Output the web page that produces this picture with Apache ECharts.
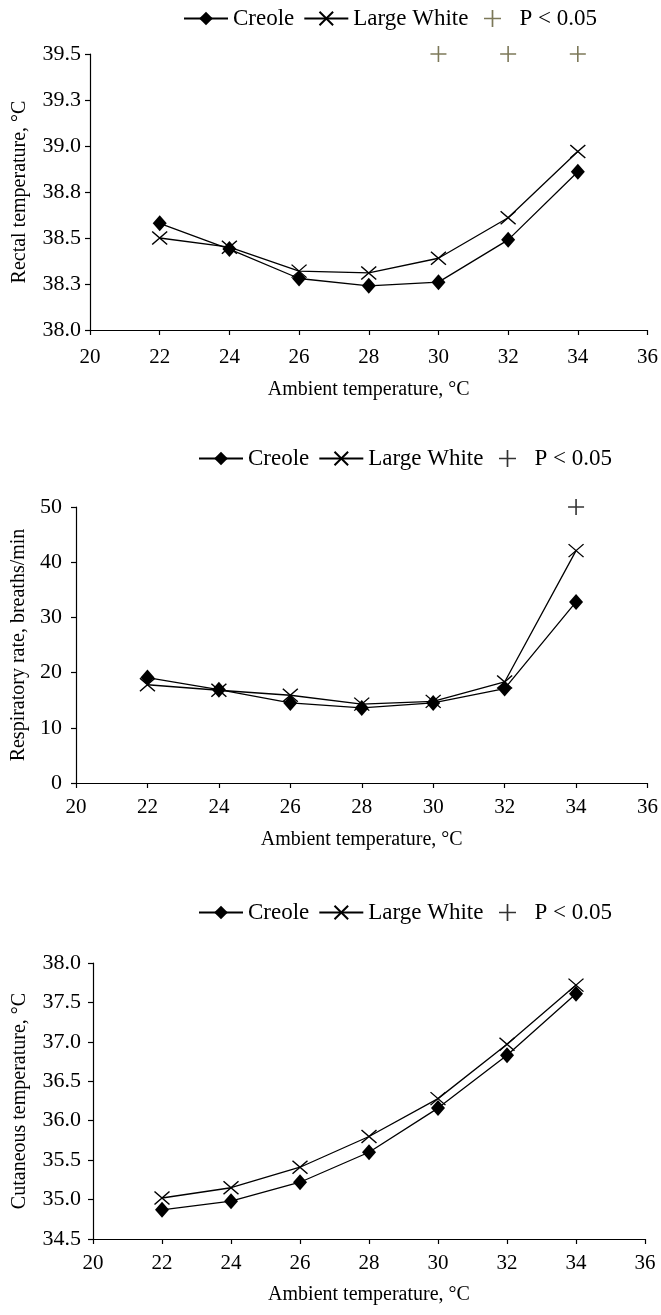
<!DOCTYPE html>
<html>
<head>
<meta charset="utf-8">
<script src="https://cdn.jsdelivr.net/npm/echarts@6/dist/echarts.min.js"></script>
<style>
  html, body { margin: 0; padding: 0; background: #fff; }
  #chart { width: 661px; height: 1315px; }
</style>
</head>
<body>
<div id="chart"></div>
<script>
// ambient temperature, °C
var ambient = [22, 24, 26, 28, 30, 32, 34]

// rectal temperature
var rectalCreole = [38.58, 38.44, 38.28, 38.24, 38.26, 38.49, 38.86]
var rectalLW = [38.50, 38.45, 38.32, 38.31, 38.39, 38.61, 38.97]
var rectalSig = [30, 32, 34]

// respiratory rate
var respCreole = [19.1, 16.9, 14.5, 13.6, 14.5, 17.1, 32.8]
var respLW = [17.8, 16.8, 15.9, 14.3, 14.8, 18.3, 42.1]
var respSig = [34]

// cutaneous temperature
var cutCreole = [34.87, 34.98, 35.22, 35.60, 36.16, 36.83, 37.61]
var cutLW = [35.02, 35.15, 35.41, 35.80, 36.28, 36.97, 37.72]
var cutSig = []

// axis ranges [min, max, interval]
var xRange = [20, 36, 2]
var rectalRange = [38.0, 39.5, 0.25]
var respRange = [0, 50, 10]
var cutRange = [34.5, 38.0, 0.5]

var yNames = ['Rectal temperature, °C', 'Respiratory rate, breaths/min', 'Cutaneous temperature, °C']
var xName = 'Ambient temperature, °C'
var legendNames = ['Creole', 'Large White', 'P < 0.05']

var FONT = '"Liberation Serif", "Times New Roman", serif'
var OLIVE = '#5b5630'
var diamond = 'diamond'
var cross = 'path://M-1,-1L1,1M-1,1L1,-1'
var plus = 'path://M-0.1,-1L0.1,-1L0.1,-0.1L1,-0.1L1,0.1L0.1,0.1L0.1,1L-0.1,1L-0.1,0.1L-1,0.1L-1,-0.1L-0.1,-0.1Z'

function pairs(ys) {
  return ambient.map(function (x, i) { return [x, ys[i]] })
}

var grids = [
  { left: 90, top: 54, right: 12, height: 276 },
  { left: 76, top: 507, right: 13, height: 276 },
  { left: 93, top: 963, right: 16, height: 276 }
]
var yRanges = [rectalRange, respRange, cutRange]
var sigData = [rectalSig, respSig, cutSig]
var sigTop = [rectalRange[1], respRange[1], cutRange[1]]
var creole = [rectalCreole, respCreole, cutCreole]
var lw = [rectalLW, respLW, cutLW]
var plusColor = [OLIVE, '#000', '#000']
var nameGapY = [60, 44, 63]
var nameGapX = [50, 47, 46]
var labMarginX = [17, 14, 14]
var labMarginY = [9, 14, 12]
var legendTop = [7, 447, 901]
var legendLeft = [183, 198, 198]

var axisLine = { show: true, lineStyle: { color: '#000', width: 1.2 } }
var axisTick = { show: true, inside: false, length: 5, lineStyle: { color: '#000', width: 1.2 } }

var xAxis = [], yAxis = [], series = [], legend = []
for (var i = 0; i < 3; i++) {
  xAxis.push({
    type: 'value', gridIndex: i,
    min: xRange[0], max: xRange[1], interval: xRange[2],
    name: xName, nameLocation: 'middle', nameGap: nameGapX[i],
    nameTextStyle: { fontFamily: FONT, fontSize: 20, color: '#000', verticalAlign: 'top' },
    axisLine: axisLine, axisTick: axisTick,
    axisLabel: { fontFamily: FONT, fontSize: 21, color: '#000', margin: labMarginX[i] },
    splitLine: { show: false }
  })
  var r = yRanges[i]
  yAxis.push({
    type: 'value', gridIndex: i,
    min: r[0], max: r[1], interval: r[2],
    name: yNames[i], nameLocation: 'middle', nameGap: nameGapY[i], nameRotate: 90,
    nameTextStyle: { fontFamily: FONT, fontSize: 20, color: '#000' },
    axisLine: axisLine, axisTick: axisTick,
    axisLabel: {
      fontFamily: FONT, fontSize: 22, color: '#000', margin: labMarginY[i],
      formatter: i === 1 ? function (v) { return String(v) } : function (v) { return v.toFixed(1) }
    },
    splitLine: { show: false }
  })
  series.push({
    name: legendNames[0], type: 'line', xAxisIndex: i, yAxisIndex: i,
    data: pairs(creole[i]),
    symbol: diamond, symbolSize: [14, 16],
    lineStyle: { color: '#000', width: 1.3 },
    itemStyle: { color: '#000', borderWidth: 0 },
    z: 3
  })
  series.push({
    name: legendNames[1], type: 'line', xAxisIndex: i, yAxisIndex: i,
    data: pairs(lw[i]),
    symbol: cross, symbolSize: [15, 13],
    lineStyle: { color: '#000', width: 1.3 },
    itemStyle: { color: '#000', borderColor: '#000', borderWidth: 1.3 },
    z: 2
  })
  series.push({
    name: legendNames[2], type: 'scatter', xAxisIndex: i, yAxisIndex: i,
    data: sigData[i].map(function (x) { return [x, sigTop[i]] }),
    symbol: plus, symbolSize: 16, clip: false,
    itemStyle: { color: plusColor[i] }
  })

  legend.push({
    data: [legendNames[0], legendNames[1]],
    left: legendLeft[i], top: legendTop[i], padding: 0,
    itemWidth: 44, itemHeight: 17, itemGap: 9,
    selectedMode: false,
    textStyle: { fontFamily: FONT, fontSize: 23, color: '#000' }
  })
  legend.push({
    data: [{ name: legendNames[2], itemStyle: { color: plusColor[i] } }],
    left: legendLeft[i] + 301, top: legendTop[i], padding: 0,
    itemWidth: 44, itemHeight: 17,
    selectedMode: false,
    textStyle: { fontFamily: FONT, fontSize: 23, color: '#000' }
  })
}

var chart = echarts.init(document.getElementById('chart'))
chart.setOption({
  animation: false,
  backgroundColor: '#fff',
  grid: grids,
  legend: legend,
  xAxis: xAxis,
  yAxis: yAxis,
  series: series
})
</script>
</body>
</html>
